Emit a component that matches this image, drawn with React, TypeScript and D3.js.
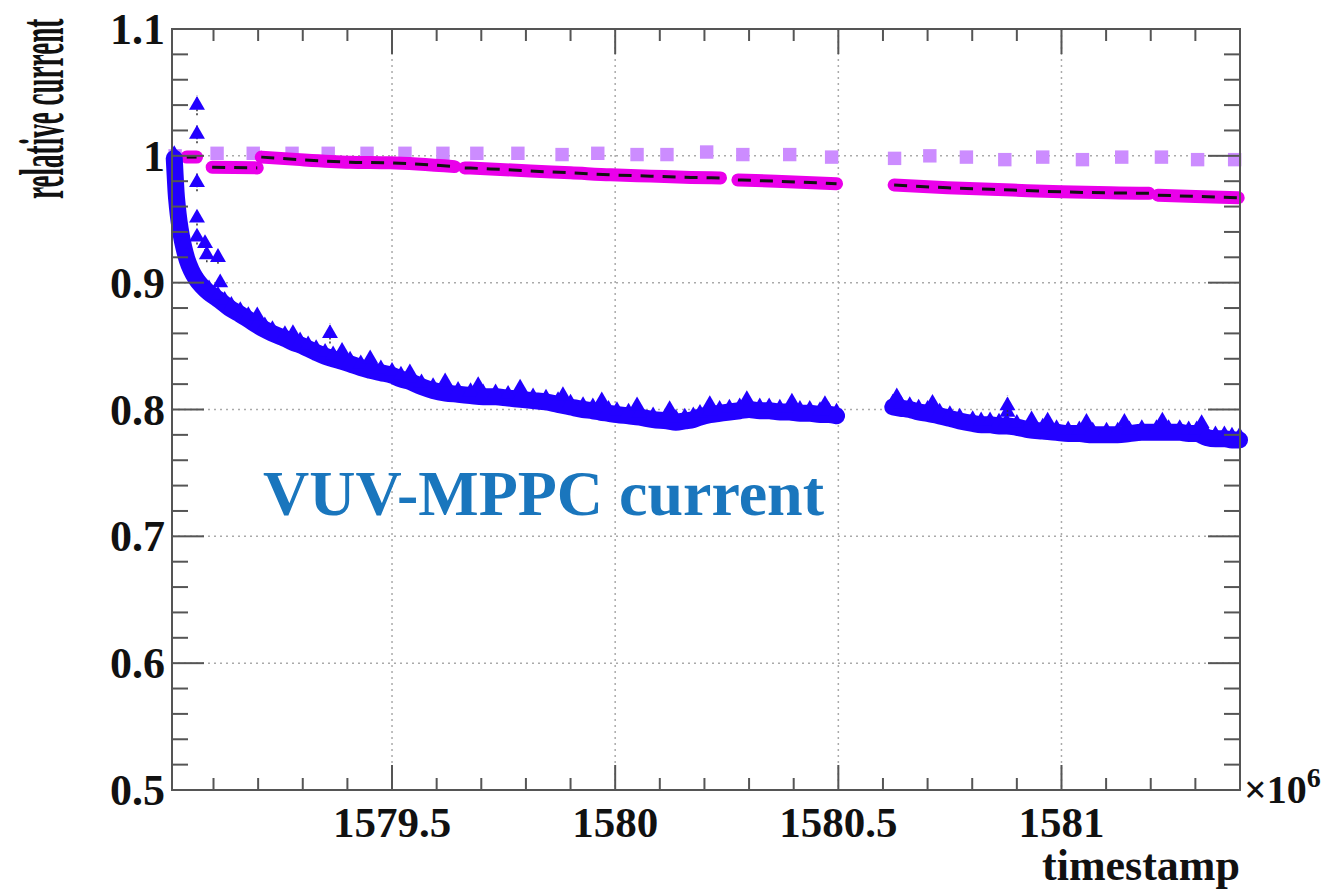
import React from "react";
import * as d3 from "d3";

// ---- data (timestamp in units of 1e6 s, relative current) ----
const blueTime = [
  1579.012, 1579.014, 1579.016, 1579.019, 1579.023, 1579.028, 1579.034, 1579.041, 1579.050, 1579.061,
  1579.075, 1579.090, 1579.110, 1579.125, 1579.140, 1579.160, 1579.178, 1579.200, 1579.215, 1579.232,
  1579.260, 1579.278, 1579.294, 1579.312, 1579.330, 1579.350, 1579.368, 1579.388, 1579.406, 1579.430,
  1579.451, 1579.475, 1579.500, 1579.520, 1579.540, 1579.566, 1579.592, 1579.620, 1579.648, 1579.676,
  1579.704, 1579.732, 1579.760, 1579.788, 1579.816, 1579.845, 1579.872, 1579.900, 1579.928, 1579.950,
  1579.966, 1579.985, 1580.004, 1580.030, 1580.055, 1580.085, 1580.116, 1580.136, 1580.156, 1580.175,
  1580.190, 1580.212, 1580.234, 1580.256, 1580.279, 1580.300, 1580.324, 1580.345, 1580.369, 1580.390,
  1580.414, 1580.436, 1580.459, 1580.478, 1580.496,
  1580.622, 1580.640, 1580.660, 1580.680, 1580.700, 1580.727, 1580.750, 1580.772, 1580.801, 1580.820,
  1580.840, 1580.860, 1580.877, 1580.900, 1580.928, 1580.958, 1580.989, 1581.015, 1581.040, 1581.070,
  1581.101, 1581.126, 1581.152, 1581.180, 1581.213, 1581.240, 1581.265, 1581.285, 1581.303, 1581.325,
  1581.345, 1581.365, 1581.382, 1581.399,
];
const blueValue = [
  0.998, 0.985, 0.972, 0.960, 0.948, 0.937, 0.927, 0.918, 0.910, 0.903,
  0.897, 0.892, 0.887, 0.883, 0.879, 0.875, 0.871, 0.866, 0.863, 0.860,
  0.856, 0.853, 0.851, 0.848, 0.845, 0.842, 0.840, 0.838, 0.836, 0.833,
  0.831, 0.829, 0.827, 0.824, 0.822, 0.818, 0.815, 0.813, 0.812, 0.811,
  0.810, 0.810, 0.809, 0.808, 0.807, 0.806, 0.804, 0.802, 0.800, 0.799,
  0.798, 0.797, 0.796, 0.795, 0.794, 0.792, 0.791, 0.790, 0.791, 0.792,
  0.794, 0.796, 0.797, 0.798, 0.799, 0.800, 0.799, 0.799, 0.798, 0.798,
  0.797, 0.797, 0.796, 0.796, 0.795,
  0.802, 0.801, 0.800, 0.798, 0.797, 0.795, 0.793, 0.791, 0.789, 0.788,
  0.788, 0.787, 0.787, 0.786, 0.784, 0.783, 0.782, 0.781, 0.781, 0.780,
  0.780, 0.780, 0.781, 0.782, 0.782, 0.782, 0.782, 0.781, 0.781, 0.778,
  0.777, 0.777, 0.776, 0.776,
];
const spikeTime = [
  1579.115, 1579.198, 1579.278, 1579.388, 1579.451, 1579.540, 1579.619, 1579.693, 1579.787, 1579.883,
  1579.970, 1580.049, 1580.122, 1580.212, 1580.295, 1580.396, 1580.470, 1580.631, 1580.711, 1580.879,
  1580.933, 1580.969, 1581.056, 1581.141, 1581.226, 1581.314,
];
const spikeValue = [
  0.900, 0.874, 0.860, 0.846, 0.840, 0.829, 0.822, 0.819, 0.817, 0.811,
  0.807, 0.803, 0.800, 0.804, 0.808, 0.806, 0.804, 0.810, 0.805, 0.798,
  0.792, 0.791, 0.790, 0.790, 0.791, 0.789,
];
const outlierTime = [1579.063, 1579.063, 1579.063, 1579.063, 1579.063, 1579.081, 1579.085, 1579.110, 1579.361, 1580.879];
const outlierValue = [1.040, 1.017, 0.979, 0.951, 0.936, 0.931, 0.922, 0.920, 0.860, 0.803];
const outlierError = [0.008, 0.007, 0.007, 0.006, 0.006, 0.006, 0.006, 0.005, 0.008, 0.008];

const violetTime = [
  1579.014, 1579.108, 1579.189, 1579.276, 1579.357, 1579.444, 1579.529, 1579.614, 1579.690, 1579.782,
  1579.881, 1579.961, 1580.049, 1580.116, 1580.205, 1580.286, 1580.391, 1580.485,
  1580.626, 1580.705, 1580.787, 1580.873, 1580.958, 1581.047, 1581.135, 1581.224, 1581.305, 1581.388,
];
const violetValue = [
  1.000, 1.002, 1.002, 1.002, 1.002, 1.002, 1.002, 1.002, 1.002, 1.002,
  1.001, 1.002, 1.001, 1.001, 1.003, 1.001, 1.001, 0.999,
  0.998, 1.000, 0.999, 0.997, 0.999, 0.997, 0.999, 0.999, 0.997, 0.997,
];

// magenta segments: segment id, time, value
const magentaSeg = [0, 0, 1, 1, 2, 2, 2, 2, 2, 3, 3, 3, 3, 3, 3, 3, 3, 4, 4, 4, 5, 5, 5, 5, 5, 5, 6, 6, 6];
const magentaTime = [
  1579.040, 1579.062,
  1579.097, 1579.198,
  1579.207, 1579.294, 1579.406, 1579.496, 1579.640,
  1579.663, 1579.720, 1579.810, 1579.900, 1579.990, 1580.080, 1580.170, 1580.236,
  1580.275, 1580.360, 1580.496,
  1580.625, 1580.745, 1580.890, 1581.000, 1581.110, 1581.196,
  1581.216, 1581.300, 1581.396,
];
const magentaValue = [
  0.999, 0.999,
  0.991, 0.9905,
  0.999, 0.997, 0.995, 0.9945, 0.9915,
  0.9905, 0.9897, 0.988, 0.9866, 0.985, 0.984, 0.983, 0.9826,
  0.981, 0.980, 0.978,
  0.977, 0.9748, 0.973, 0.9716, 0.9708, 0.9705,
  0.969, 0.968, 0.967,
];

const xMajorTicks = [1579.5, 1580, 1580.5, 1581];
const xTickLabels = ["1579.5", "1580", "1580.5", "1581"];
const yMajorTicks = [0.5, 0.6, 0.7, 0.8, 0.9, 1.0, 1.1];
const yTickLabels = ["0.5", "0.6", "0.7", "0.8", "0.9", "1", "1.1"];

const W = 1337;
const H = 893;
const L = 172, R = 1240, T = 29, B = 790;

export default function App() {
  const x = d3.scaleLinear().domain([1579.007, 1581.4]).range([L, R]);
  const y = d3.scaleLinear().domain([0.5, 1.1]).range([B, T]);
  const font = "'Liberation Serif', 'Times New Roman', serif";

  const xMinor = d3.range(1579.1, 1581.4, 0.1).filter((v) => Math.abs(v * 2 - Math.round(v * 2)) > 1e-6);
  const yMinor = d3.range(0.52, 1.1, 0.02).filter((v) => Math.abs(v * 10 - Math.round(v * 10)) > 1e-6);

  const blue = blueTime.map((t, i) => ({ t, v: blueValue[i] }));
  const blueSegs: { t: number; v: number }[][] = [];
  blue.forEach((p, i) => {
    if (i === 0 || p.t - blue[i - 1].t > 0.08) blueSegs.push([]);
    blueSegs[blueSegs.length - 1].push(p);
  });
  const magSegs = d3.groups(
    magentaTime.map((t, i) => ({ s: magentaSeg[i], t, v: magentaValue[i] })),
    (d) => d.s
  ).map((g) => g[1]);

  const line = d3
    .line<{ t: number; v: number }>()
    .x((d) => x(d.t))
    .y((d) => y(d.v))
    .curve(d3.curveMonotoneX);

  const tri = d3.symbol(d3.symbolTriangle, 110)()!;
  const sq = d3.symbol(d3.symbolSquare, 180)()!;
  const blueCol = "#2200ff";
  const magCol = "#ea00ea";
  const violetCol = "#cc8cff";

  return (
    <svg width={W} height={H} style={{ position: "absolute", left: 0, top: 0, background: "#fff" }}>
      <rect x={0} y={0} width={W} height={H} fill="#fff" />
      {/* grid */}
      {xMajorTicks.map((t) => (
        <line key={"gx" + t} x1={x(t)} x2={x(t)} y1={T} y2={B} stroke="#aaa" strokeWidth={1.5} strokeDasharray="2,4" />
      ))}
      {yMajorTicks.slice(1, -1).map((v) => (
        <line key={"gy" + v} x1={L} x2={R} y1={y(v)} y2={y(v)} stroke="#aaa" strokeWidth={1.5} strokeDasharray="2,4" />
      ))}

      {/* violet squares */}
      {violetTime.map((t, i) => (
        <path key={"vs" + i} d={sq} transform={`translate(${x(t)},${y(violetValue[i])})`} fill={violetCol} />
      ))}

      {/* magenta band + black dashes */}
      {magSegs.map((seg, i) => (
        <path key={"mg" + i} d={line(seg)!} fill="none" stroke={magCol} strokeWidth={13} strokeLinecap="round" strokeLinejoin="round" />
      ))}
      {magSegs.map((seg, i) => (
        <path key={"mk" + i} d={line(seg)!} fill="none" stroke="#111" strokeWidth={3} strokeDasharray="13,9" />
      ))}

      {/* blue band */}
      {blueSegs.map((seg, i) => (
        <path key={"bl" + i} d={line(seg)!} fill="none" stroke={blueCol} strokeWidth={17} strokeLinejoin="round" strokeLinecap="round" />
      ))}
      {blue.map((p, i) => (
        <path key={"bt" + i} d={tri} transform={`translate(${x(p.t)},${y(p.v) - 4})`} fill={blueCol} />
      ))}
      {spikeTime.map((t, i) => (
        <path key={"sp" + i} d={tri} transform={`translate(${x(t)},${y(spikeValue[i])})`} fill={blueCol} />
      ))}
      {outlierTime.map((t, i) => (
        <g key={"ol" + i}>
          <line x1={x(t)} x2={x(t)} y1={y(outlierValue[i] - outlierError[i])} y2={y(outlierValue[i] + outlierError[i])} stroke="#333" strokeWidth={1.5} strokeDasharray="2,2" />
          <path d={tri} transform={`translate(${x(t)},${y(outlierValue[i])})`} fill={blueCol} />
        </g>
      ))}

      {/* frame */}
      <rect x={L} y={T} width={R - L} height={B - T} fill="none" stroke="#555" strokeWidth={2} />
      {/* x ticks */}
      {xMajorTicks.map((t) => (
        <g key={"xt" + t}>
          <line x1={x(t)} x2={x(t)} y1={B} y2={B - 25} stroke="#555" strokeWidth={2} />
          <line x1={x(t)} x2={x(t)} y1={T} y2={T + 25} stroke="#555" strokeWidth={2} />
        </g>
      ))}
      {xMinor.map((t, i) => (
        <g key={"xm" + i}>
          <line x1={x(t)} x2={x(t)} y1={B} y2={B - 12} stroke="#555" strokeWidth={2} />
          <line x1={x(t)} x2={x(t)} y1={T} y2={T + 12} stroke="#555" strokeWidth={2} />
        </g>
      ))}
      {/* y ticks */}
      {yMajorTicks.map((v) => (
        <g key={"yt" + v}>
          <line x1={L} x2={L + 32} y1={y(v)} y2={y(v)} stroke="#555" strokeWidth={2} />
          <line x1={R} x2={R - 32} y1={y(v)} y2={y(v)} stroke="#555" strokeWidth={2} />
        </g>
      ))}
      {yMinor.map((v, i) => (
        <g key={"ym" + i}>
          <line x1={L} x2={L + 16} y1={y(v)} y2={y(v)} stroke="#555" strokeWidth={2} />
          <line x1={R} x2={R - 16} y1={y(v)} y2={y(v)} stroke="#555" strokeWidth={2} />
        </g>
      ))}

      {/* tick labels */}
      {xMajorTicks.map((t, i) => (
        <text key={"xl" + t} x={x(t)} y={837} textAnchor="middle" fontFamily={font} fontWeight="bold" fontSize={43} fill="#111">
          {xTickLabels[i]}
        </text>
      ))}
      {yMajorTicks.map((v, i) => (
        <text key={"yl" + v} x={165} y={y(v) + 15} textAnchor="end" fontFamily={font} fontWeight="bold" fontSize={44} fill="#111">
          {yTickLabels[i]}
        </text>
      ))}

      {/* axis titles */}
      <text x={R} y={880} textAnchor="end" fontFamily={font} fontWeight="bold" fontSize={44} fill="#111">
        timestamp
      </text>
      <g transform="translate(63,199) rotate(-90) scale(0.43,1)">
        <text x={0} y={0} textAnchor="start" fontFamily={font} fontWeight="bold" fontSize={63} fill="#111">
          relative current
        </text>
      </g>
      <text x={1244} y={803} fontFamily={font} fontWeight="bold" fontSize={40} fill="#111">
        ×10
        <tspan dy={-16} fontSize={28}>6</tspan>
      </text>

      <text x={263} y={515} fontFamily={font} fontWeight="bold" fontSize={64} fill="#1a76bd">
        VUV-MPPC current
      </text>
    </svg>
  );
}
